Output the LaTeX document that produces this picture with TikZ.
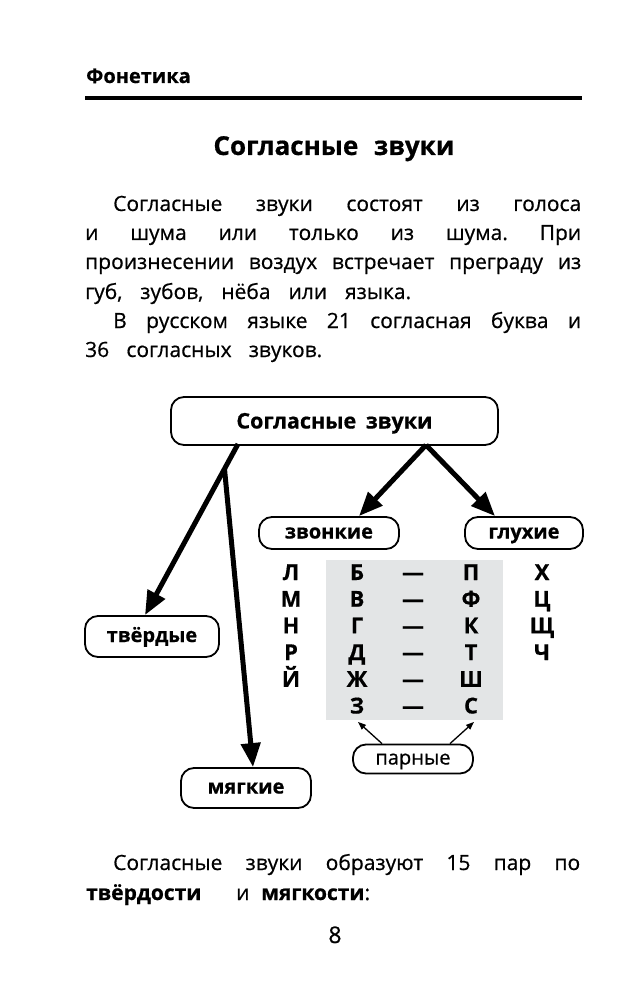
\documentclass[tikz,border=0pt]{standalone}
\usepackage{fontspec}
\setmainfont{Open Sans}[UprightFeatures={FakeBold=0.6},BoldFeatures={FakeBold=0.6}]
\frenchspacing
\usetikzlibrary{arrows.meta,calc}
\definecolor{tablegrey}{HTML}{E3E5E6}
\begin{document}
\begin{tikzpicture}[x=1pt,y=-1pt,
  lbox/.style={draw,line width=1.8pt,rounded corners=13pt,inner sep=0pt,
    font=\fontsize{20}{24}\selectfont\bfseries,text height=11pt,text depth=0pt},
  bigarrow/.style={line width=5pt,-{Triangle[length=24pt,width=19pt]}},
  smallarrow/.style={line width=1.3pt,-{Triangle[length=8pt,width=6pt]}},
  body/.style={anchor=base west,inner sep=0pt,font=\fontsize{21}{26}\selectfont},
  letter/.style={anchor=base,inner sep=0pt,font=\fontsize{22}{24}\selectfont\bfseries}]
\useasboundingbox[fill=white] (0,0) rectangle (644,1000);

% header
\node[anchor=base west,inner sep=0pt,font=\fontsize{20}{24}\selectfont\bfseries] (hdr) at (86,83) {Фонетика};
\draw[line width=3.5pt] (85,98) -- (582,98);
\node[anchor=base,inner sep=0pt,font=\fontsize{26}{32}\selectfont\bfseries] (title) at (334,155) {Согласные\hspace{0.6em}звуки};

% paragraph
\node[body] (p1) at (113,211) {\makebox[468pt][s]{Согласные звуки состоят из голоса}};
\node[body] (p2) at (85,240) {\makebox[496pt][s]{и шума или только из шума. При}};
\node[body] (p3) at (85,269) {\makebox[496pt][s]{произнесении воздух встречает преграду из}};
\node[body] (p4) at (85,299) {\makebox[326pt][s]{губ, зубов, нёба или языка.}};
\node[body] (p5) at (113,328) {\makebox[468pt][s]{В русском языке 21 согласная буква и}};
\node[body] (p6) at (85,357) {\makebox[237pt][s]{36 согласных звуков.}};

% diagram boxes
\node[lbox,font=\fontsize{21.5}{24}\selectfont\bfseries,text height=15pt,minimum width=327pt,minimum height=48pt] (top) at (334.5,421) {Согласные\hspace{0.45em}звуки};
\node[lbox,minimum width=140pt,minimum height=32pt] (zv) at (329,533) {звонкие};
\node[lbox,minimum width=118pt,minimum height=32pt] (gl) at (524,533) {глухие};
\node[lbox,minimum width=134pt,minimum height=41pt] (tv) at (152,636.5) {твёрдые};
\node[lbox,minimum width=130pt,minimum height=40pt] (mg) at (246,788) {мягкие};
\node[lbox,font=\fontsize{20}{24}\selectfont,minimum width=120pt,minimum height=29pt] (pr) at (413,759) {парные};

% grey table
\fill[tablegrey] (326,560) rectangle (503,720);

% letters
\foreach \t [count=\i] in {Л,М,Н,Р,Й}
  \node[letter] (s\i) at (291,{580+26.7*(\i-1)}) {\t};
\foreach \t [count=\i] in {Б,В,Г,Д,Ж,З}
  \node[letter] (v\i) at (357,{580+26.7*(\i-1)}) {\t};
\foreach \i in {1,...,6}
  \node[letter] (d\i) at (413,{580+26.7*(\i-1)}) {—};
\foreach \t [count=\i] in {П,Ф,К,Т,Ш,С}
  \node[letter] (u\i) at (471,{580+26.7*(\i-1)}) {\t};
\foreach \t [count=\i] in {Х,Ц,Щ,Ч}
  \node[letter] (h\i) at (542,{580+26.7*(\i-1)}) {\t};

% arrows
\coordinate (lstart) at (238,444);
\coordinate (br) at (224.5,469);
\coordinate (apex) at (426,445);
\draw[bigarrow] (lstart) -- ([xshift=-7pt]tv.north);
\draw[bigarrow] (br) -- ([xshift=7pt]mg.north);
\draw[bigarrow] (apex) -- ([xshift=30pt]zv.north);
\draw[bigarrow] (apex) -- ([xshift=-29pt]gl.north);

\draw[smallarrow] ([xshift=-31pt]pr.north) -- ([xshift=1pt,yshift=-8pt]v6.south);
\draw[smallarrow] ([xshift=37pt]pr.north) -- ([xshift=3pt,yshift=-8pt]u6.south);

% bottom text
\node[body] (q1) at (113,870) {\makebox[467pt][s]{Согласные звуки образуют 15 пар по}};
\node[body] (q2) at (86,900) {\makebox[150pt][l]{\bfseries твёрдости}\makebox[25pt][l]{и}\textbf{мягкости}:};
\node[anchor=base,inner sep=0pt,font=\fontsize{23}{28}\selectfont] (pg) at (335,943) {8};
\end{tikzpicture}
\end{document}
